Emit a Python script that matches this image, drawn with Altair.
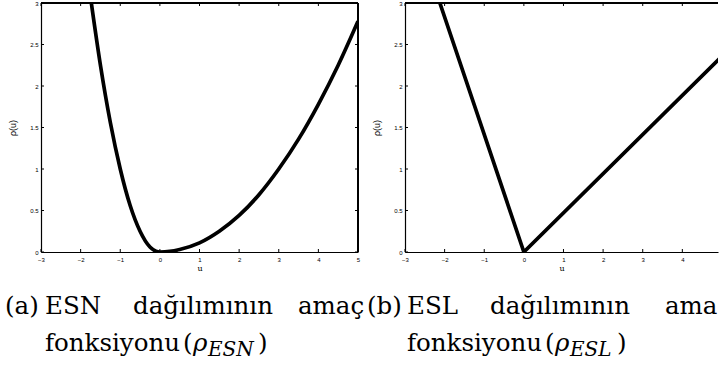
import altair as alt
import pandas as pd

# ---- data ----
esn_u = [-1.73, -1.5, -1.25, -1.0, -0.75, -0.5, -0.25, -0.1, 0.0, 0.25, 0.5, 1.0, 1.5, 2.0, 2.5, 3.0, 3.5, 4.0, 4.5, 5.0]
esn_rho = [3.0, 2.25, 1.56, 1.0, 0.56, 0.25, 0.06, 0.01, 0.0, 0.007, 0.03, 0.11, 0.25, 0.44, 0.69, 1.0, 1.36, 1.78, 2.25, 2.78]

esl_u = [-2.12, 0.0, 5.0]
esl_rho = [3.0, 0.0, 2.36]

x_ticks_a = [-3, -2, -1, 0, 1, 2, 3, 4, 5]
x_ticks_b = [-3, -2, -1, 0, 1, 2, 3, 4]   # the right panel is cut off just before u = 5
y_ticks = [0, 0.5, 1, 1.5, 2, 2.5, 3]

cap_a_line1 = ["(a)", "ESN", "dağılımının", "amaç"]
cap_a_line2 = ["fonksiyonu", "(", "ρ", "ESN", ")"]
cap_b_line1 = ["(b)", "ESL", "dağılımının", "ama"]
cap_b_line2 = ["fonksiyonu", "(", "ρ", "ESL", ")"]

W, H = 317, 249
W_B = 313
SERIF = "DejaVu Serif"
SANS = "Liberation Sans"
CAP = 24.5


def axes(xvals):
    xa = alt.Axis(values=xvals, format="~g", ticks=False, domain=True, domainColor="black",
                  domainWidth=1.2, grid=False, labelOverlap=False, labelFlush=False,
                  labelFont=SANS, labelFontSize=6, labelPadding=4, labelColor="black",
                  title="u", titleFont=SERIF, titleFontSize=8, titleFontWeight="normal",
                  titlePadding=2, titleColor="black")
    ya = alt.Axis(values=y_ticks, format="~g", ticks=False, domain=True, domainColor="black",
                  domainWidth=1.2, grid=False, labelOverlap=False, labelFlush=False,
                  labelFont=SANS, labelFontSize=6, labelPadding=3, labelColor="black",
                  title="ρ(u)", titleFont=SANS, titleFontSize=9, titleFontWeight="normal",
                  titlePadding=12, titleColor="black")
    return xa, ya


def text_layer(word, x, y, size=CAP, style="normal"):
    return alt.Chart(pd.DataFrame({"w": [word]})).mark_text(
        align="left", baseline="alphabetic", font=SERIF, fontSize=size,
        fontStyle=style, color="black"
    ).encode(x=alt.value(x), y=alt.value(y), text="w:N")


def panel(us, rhos, xvals, xmax, width, line1, line2, pos1, pos2, interp, right_border):
    xscale = alt.Scale(domain=[-3, xmax], nice=False, zero=False)
    yscale = alt.Scale(domain=[0, 3], nice=False, zero=False)
    xa, ya = axes(xvals)
    df = pd.DataFrame({"u": us, "rho": rhos})
    line = alt.Chart(df).mark_line(color="black", strokeWidth=3.7, clip=True,
                                   interpolate=interp).encode(
        x=alt.X("u:Q", scale=xscale, axis=xa),
        y=alt.Y("rho:Q", scale=yscale, axis=ya),
    )
    xt = pd.DataFrame({"u": xvals})
    yt = pd.DataFrame({"rho": y_ticks})
    layers = [line]
    layers.append(alt.Chart(xt).mark_rule(color="black", strokeWidth=1).encode(
        x=alt.X("u:Q", scale=xscale, axis=xa), y=alt.value(H), y2=alt.value(H - 3)))
    layers.append(alt.Chart(xt).mark_rule(color="black", strokeWidth=1).encode(
        x=alt.X("u:Q", scale=xscale, axis=xa), y=alt.value(0), y2=alt.value(3)))
    layers.append(alt.Chart(yt).mark_rule(color="black", strokeWidth=1).encode(
        y=alt.Y("rho:Q", scale=yscale, axis=ya), x=alt.value(0), x2=alt.value(3)))
    # top border of the box
    layers.append(alt.Chart(yt).mark_rule(color="black", strokeWidth=1).encode(
        x=alt.value(0), x2=alt.value(width), y=alt.value(0)))
    if right_border:
        layers.append(alt.Chart(yt).mark_rule(color="black", strokeWidth=1).encode(
            y=alt.Y("rho:Q", scale=yscale, axis=ya), x=alt.value(width), x2=alt.value(width - 3)))
        layers.append(alt.Chart(yt).mark_rule(color="black", strokeWidth=1.2).encode(
            x=alt.value(width), y=alt.value(0), y2=alt.value(H)))

    b1 = 314 - 3.5
    b2 = 351 - 3.5
    for word, x in zip(line1, pos1):
        layers.append(text_layer(word, x, b1))
    layers.append(text_layer(line2[0], pos2[0], b2))
    layers.append(text_layer(line2[1], pos2[1], b2))
    layers.append(text_layer(line2[2], pos2[2], b2, style="italic"))
    layers.append(text_layer(line2[3], pos2[3], b2 + 5, size=20, style="italic"))
    layers.append(text_layer(line2[4], pos2[4], b2))
    return alt.layer(*layers).properties(width=width, height=H)


LA, LB = 41, 405
left = panel(esn_u, esn_rho, x_ticks_a, 5, W, cap_a_line1, cap_a_line2,
             [p - LA for p in (5, 45, 133, 298)],
             [p - LA for p in (45, 183, 193, 208, 258)], "monotone", True)
right = panel(esl_u, esl_rho, x_ticks_b, 4.9, W_B, cap_b_line1, cap_b_line2,
              [p - LB for p in (367, 407, 490, 665)],
              [p - LB for p in (407, 545, 555, 570, 617)], "linear", False)

chart = alt.hconcat(left, right, spacing=LB - LA - W, bounds="flush").properties(
    padding={"left": 5, "top": 0, "right": 0, "bottom": 0},
    background="white",
).configure_view(stroke=None)

chart.save("out.html", embed_options={"renderer": "svg", "actions": False})
